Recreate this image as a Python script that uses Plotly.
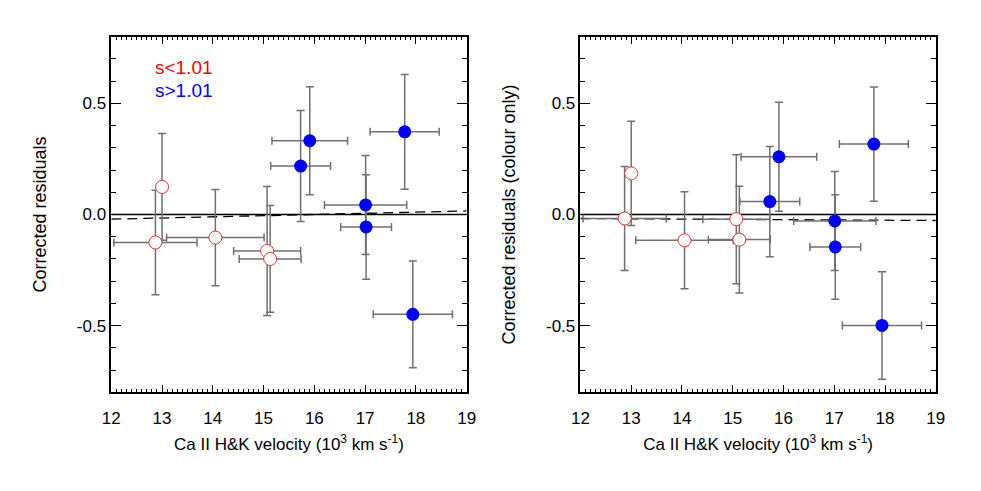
import plotly.graph_objects as go
from plotly.subplots import make_subplots

# Ca II H&K velocity (10^3 km/s) and its error, same for both panels
vel_low = [13.00, 12.87, 14.05, 15.07, 15.13]
vel_low_err = [0.0, 0.82, 0.96, 0.66, 0.61]
vel_high = [15.73, 15.91, 17.78, 17.01, 17.02, 17.94]
vel_high_err = [0.59, 0.745, 0.68, 0.81, 0.50, 0.78]

# left panel: corrected residuals
res_low = [0.124, -0.126, -0.104, -0.164, -0.200]
res_low_err = [0.24, 0.235, 0.217, 0.29, 0.24]
res_high = [0.218, 0.332, 0.372, 0.043, -0.056, -0.449]
res_high_err = [0.25, 0.243, 0.258, 0.223, 0.235, 0.24]

# right panel: corrected residuals (colour only)
col_low = [0.185, -0.018, -0.116, -0.021, -0.113]
col_low_err = [0.235, 0.234, 0.218, 0.29, 0.24]
col_high = [0.058, 0.260, 0.317, -0.029, -0.146, -0.499]
col_high_err = [0.248, 0.245, 0.257, 0.223, 0.235, 0.242]

# linear fits (value at x=12 and x=19)
fit_x = [12, 19]
fit_left = [-0.021, 0.016]
fit_right = [-0.018, -0.027]

FONT = "Liberation Sans, Arial, Helvetica, sans-serif"
ERR = "#707070"

fig = make_subplots(rows=1, cols=2)

panels = [
    (1, res_low, res_low_err, res_high, res_high_err, fit_left),
    (2, col_low, col_low_err, col_high, col_high_err, fit_right),
]
for col, ylo, ylo_e, yhi, yhi_e, fit in panels:
    fig.add_trace(go.Scatter(x=fit_x, y=[0, 0], mode="lines",
                             line=dict(color="black", width=1.3)), row=1, col=col)
    fig.add_trace(go.Scatter(x=fit_x, y=fit, mode="lines",
                             line=dict(color="black", width=1.3, dash="10px,6px")),
                  row=1, col=col)
    fig.add_trace(go.Scatter(
        x=vel_low, y=ylo, mode="markers",
        marker=dict(size=13, color="white", line=dict(color="#f03030", width=1)),
        error_x=dict(type="data", array=vel_low_err, color=ERR, thickness=1.5, width=4),
        error_y=dict(type="data", array=ylo_e, color=ERR, thickness=1.5, width=4),
    ), row=1, col=col)
    fig.add_trace(go.Scatter(
        x=vel_high, y=yhi, mode="markers",
        marker=dict(size=13, color="#0000ff", line=dict(width=0)),
        error_x=dict(type="data", array=vel_high_err, color=ERR, thickness=1.5, width=4),
        error_y=dict(type="data", array=yhi_e, color=ERR, thickness=1.5, width=4),
    ), row=1, col=col)

axis_common = dict(showline=True, linecolor="black", linewidth=1.5, mirror="ticks",
                   ticks="inside", tickcolor="black", tickwidth=1.3,
                   showgrid=False, zeroline=False,
                   tickfont=dict(size=17, color="black", family=FONT))

# page is drawn with an 8px body margin, so the domains are shifted to compensate
xtitle = "Ca II H&K velocity (10<sup>3</sup> km s<sup>-1</sup>)"
for i, dom in [(1, [0.0979, 0.4669]), (2, [0.5851, 0.9541])]:
    fig.update_xaxes(axis_common, range=[12, 19], dtick=1, ticklen=8, domain=dom,
                     ticklabelstandoff=10,
                     minor=dict(dtick=0.1, ticklen=4, ticks="inside", tickcolor="black"),
                     title=dict(text=xtitle, font=dict(size=17, family=FONT, color="black"),
                                standoff=11),
                     row=1, col=i)
    fig.update_yaxes(axis_common, range=[-0.8, 0.8], tickvals=[-0.5, 0, 0.5],
                     ticktext=["-0.5", "0.0", "0.5"], ticklen=10,
                     minor=dict(dtick=0.1, ticklen=5, ticks="inside", tickcolor="black"),
                     domain=[0.2173, 0.9415], row=1, col=i)

fig.update_yaxes(title=dict(text="Corrected residuals",
                            font=dict(size=18, family=FONT, color="black"), standoff=26),
                 row=1, col=1)
fig.update_yaxes(title=dict(text="Corrected residuals (colour only)",
                            font=dict(size=18, family=FONT, color="black"), standoff=26),
                 row=1, col=2)

fig.add_annotation(x=12.83, y=0.66, xref="x", yref="y", text="s<1.01", showarrow=False,
                   xanchor="left", font=dict(size=19, color="#ff0000", family=FONT))
fig.add_annotation(x=12.83, y=0.56, xref="x", yref="y", text="s>1.01", showarrow=False,
                   xanchor="left", font=dict(size=19, color="#0000ff", family=FONT))

fig.update_layout(width=981, height=491, showlegend=False,
                  margin=dict(l=0, r=0, t=0, b=0),
                  plot_bgcolor="white", paper_bgcolor="white",
                  font=dict(family=FONT, color="black"))

fig.write_html("out.html")
